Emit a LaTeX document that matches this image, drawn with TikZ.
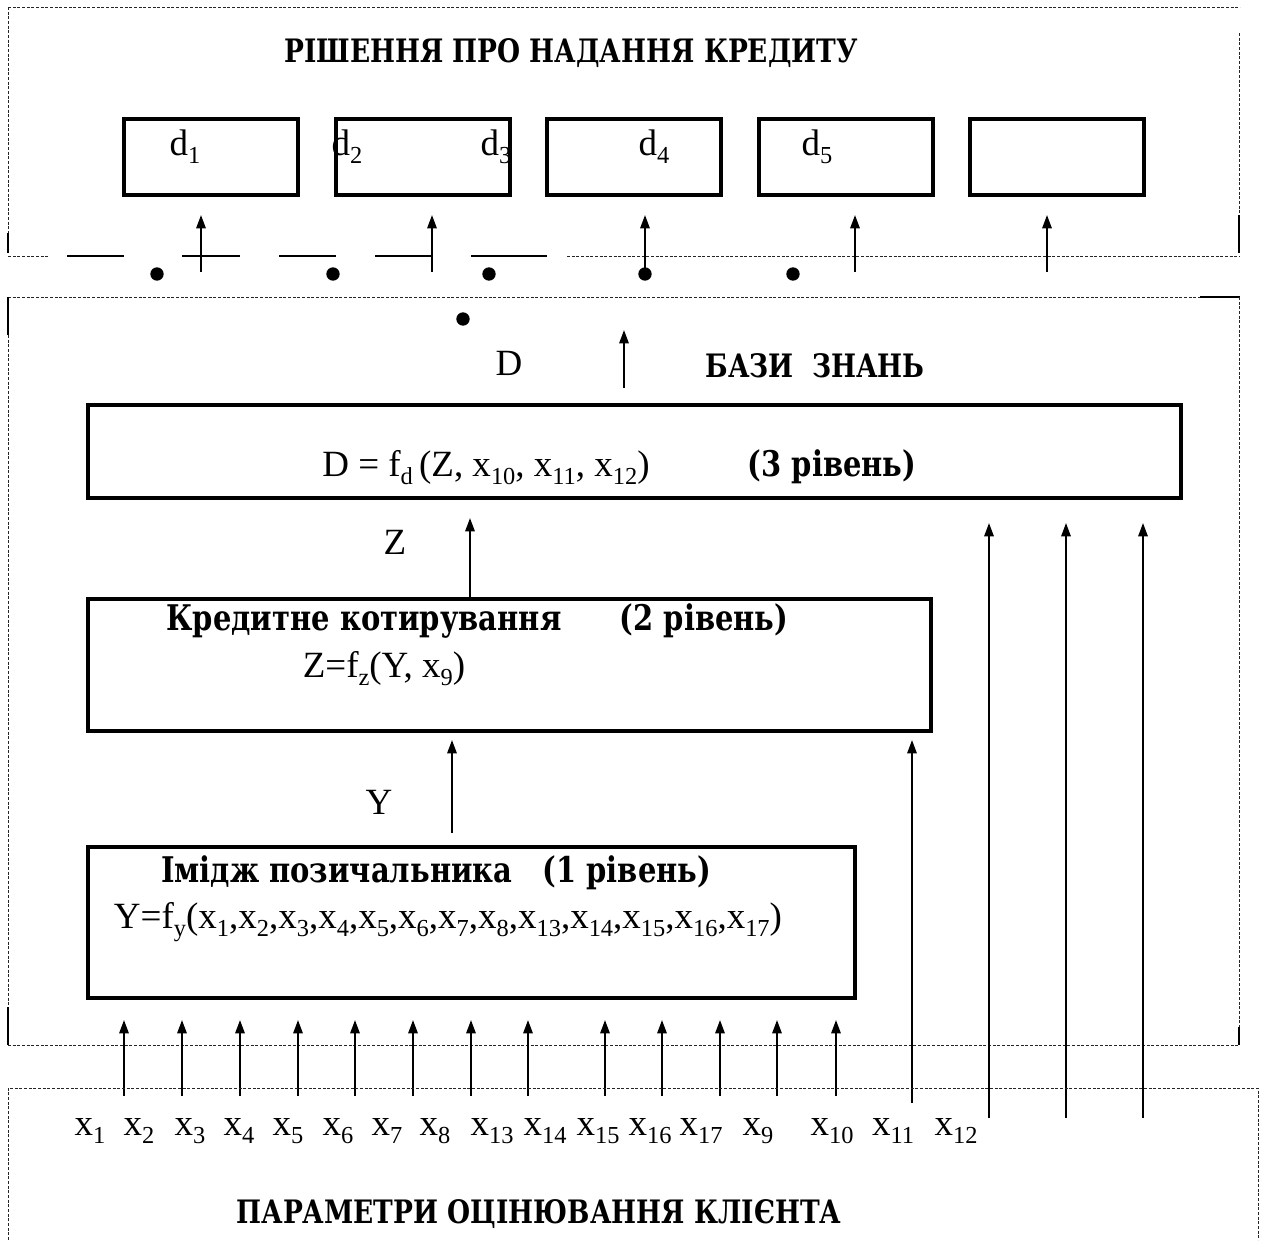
\documentclass[tikz,border=0pt]{standalone}
\usepackage{fontspec}
\usepackage{graphicx}
\setmainfont{Liberation Serif}
\newfontfamily\cyrf{DejaVu Serif}[FakeStretch=0.82]
\usetikzlibrary{arrows.meta}
\newcommand{\sbx}[1]{\raisebox{-0.22em}{\scalebox{0.66}{#1}}}
\newcommand{\bodyf}{\fontsize{27.75}{33}\selectfont}
\newcommand{\headf}{\cyrf\fontsize{24.2}{29}\selectfont\bfseries}
\newcommand{\boxf}{\cyrf\fontsize{26.5}{31}\selectfont\bfseries}
\begin{document}
\begin{tikzpicture}[x=0.75pt,y=-0.75pt,
  bx/.style={draw, line width=3pt, inner sep=0pt},
  txt/.style={inner sep=0pt, font=\bodyf, anchor=base},
  hd/.style={inner sep=0pt, font=\headf, anchor=base},
  bt/.style={inner sep=0pt, font=\boxf, anchor=base},
  arr/.style={line width=1.5pt, -{Triangle[length=10pt,width=7pt]}},
  fr/.style={line width=0.7pt, dash pattern=on 2.2pt off 1.3pt, black!85},
  sg/.style={line width=1.6pt},
  dt/.style={circle, fill, inner sep=0pt, minimum size=10pt}]
\useasboundingbox (0,0) rectangle (1267,1240);

% ---------- top panel frame ----------
\coordinate (t1) at (8,7);
\coordinate (t2) at (1240,7);
\coordinate (t3) at (8,233);
\coordinate (t4) at (8,253);
\coordinate (t5) at (8,256);
\coordinate (t6) at (49,256);
\coordinate (t7) at (567,256);
\coordinate (t8) at (1240,256);
\coordinate (t9) at (1239,33);
\coordinate (t10) at (1239,215);
\coordinate (t11) at (1239,253);
\draw[fr] (t1) -- (t2);
\draw[fr] (t1) -- (t3);
\draw[sg] (t3) -- (t4);
\draw[fr] (t5) -- (t6);
\draw[fr] (t7) -- (t8);
\draw[fr] (t9) -- (t10);
\draw[sg] (t10) -- (t11);
% solid pieces on the bottom line
\coordinate (s1a) at (67,256);  \coordinate (s1b) at (124,256);
\coordinate (s2a) at (182,256); \coordinate (s2b) at (240,256);
\coordinate (s3a) at (279,256); \coordinate (s3b) at (336,256);
\coordinate (s4a) at (375,256); \coordinate (s4b) at (432,256);
\coordinate (s5a) at (471,256); \coordinate (s5b) at (547,256);
\draw[sg] (s1a) -- (s1b);
\draw[sg] (s2a) -- (s2b);
\draw[sg] (s3a) -- (s3b);
\draw[sg] (s4a) -- (s4b);
\draw[sg] (s5a) -- (s5b);

\node[hd] (title1) at (571,62) {РІШЕННЯ ПРО НАДАННЯ КРЕДИТУ};

% decision boxes
\node[bx, minimum width=130.5pt, minimum height=57pt] (b1) at (211,157) {};
\node[bx, minimum width=130.5pt, minimum height=57pt] (b2) at (422.5,157) {};
\node[bx, minimum width=130.5pt, minimum height=57pt] (b3) at (634,157) {};
\node[bx, minimum width=130.5pt, minimum height=57pt] (b4) at (845.5,157) {};
\node[bx, minimum width=130.5pt, minimum height=57pt] (b5) at (1057,157) {};
\node[txt] (d1) at (185,155) {d\sbx{1}};
\node[txt] (d2) at (347,155) {d\sbx{2}};
\node[txt] (d3) at (496,155) {d\sbx{3}};
\node[txt] (d4) at (654,155) {d\sbx{4}};
\node[txt] (d5) at (817,155) {d\sbx{5}};

% arrows to decisions
\coordinate (a1s) at (201,272);  \coordinate (a1e) at (201,215);
\coordinate (a2s) at (432,272);  \coordinate (a2e) at (432,215);
\coordinate (a3s) at (645,274);  \coordinate (a3e) at (645,215);
\coordinate (a4s) at (855,272);  \coordinate (a4e) at (855,215);
\coordinate (a5s) at (1047,272); \coordinate (a5e) at (1047,215);
\draw[arr] (a1s) -- (a1e);
\draw[arr] (a2s) -- (a2e);
\draw[arr] (a3s) -- (a3e);
\draw[arr] (a4s) -- (a4e);
\draw[arr] (a5s) -- (a5e);

% dots
\node[dt] (p1) at (157,274) {};
\node[dt] (p2) at (333,274) {};
\node[dt] (p3) at (489,274) {};
\node[dt] (p4) at (645,274) {};
\node[dt] (p5) at (793,274) {};
\node[dt] (p6) at (463,319) {};

% ---------- middle panel frame ----------
\coordinate (m1) at (8,297);
\coordinate (m2) at (1200,297);
\coordinate (m3) at (1240,297);
\coordinate (m4) at (8,335);
\coordinate (m5) at (8,1007);
\coordinate (m6) at (8,1045);
\coordinate (m7) at (1239,1045);
\coordinate (m8) at (1239,297);
\coordinate (m9) at (1239,1027);
\draw[fr] (m1) -- (m2);
\draw[sg] (m2) -- (m3);
\draw[sg] (m1) -- (m4);
\draw[fr] (m4) -- (m5);
\draw[sg] (m5) -- (m6);
\draw[fr] (m6) -- (m7);
\draw[fr] (m8) -- (m9);
\draw[sg] (m9) -- (m7);

\node[hd] (kb) at (815,377) {БАЗИ\ \ ЗНАНЬ};
\node[txt] (Dl) at (509,375) {D};
\coordinate (Ds) at (624,388); \coordinate (De) at (624,330);
\draw[arr] (Ds) -- (De);

% level 3 box
\node[bx, minimum width=819.75pt, minimum height=69.75pt] (L3) at (634.5,451.5) {};
\node[txt] (f3) at (486,476) {D = f\sbx{d}\,(Z, x\sbx{10}, x\sbx{11}, x\sbx{12})};
\node[bt] (n3) at (832,476) {(3 рівень)};

% Z
\node[txt] (Zl) at (395,554) {Z};
\coordinate (Ze) at (470,518);

% level 2 box
\node[bx, minimum width=632.25pt, minimum height=99pt] (L2) at (509.5,665) {};
\node[bt] (t2a) at (364,630) {Кредитне котирування};
\node[bt] (t2b) at (704,630) {(2 рівень)};
\node[txt] (f2) at (384,677) {Z=f\sbx{z}(Y, x\sbx{9})};
\draw[arr] (Ze |- L2.north) -- (Ze);

% Y
\node[txt] (Yl) at (379,814) {Y};
\coordinate (Ys) at (452,833); \coordinate (Ye) at (452,740);
\draw[arr] (Ys) -- (Ye);

% level 1 box
\node[bx, minimum width=575.25pt, minimum height=113.25pt] (L1) at (471.5,922.5) {};
\node[bt] (t1a) at (436,882) {Імідж позичальника\ \ \ (1 рівень)};
\node[txt] (f1) at (448,928) {Y=f\sbx{y}(x\sbx{1},x\sbx{2},x\sbx{3},x\sbx{4},x\sbx{5},x\sbx{6},x\sbx{7},x\sbx{8},x\sbx{13},x\sbx{14},x\sbx{15},x\sbx{16},x\sbx{17})};

% x11 to level 2, x12.. to level 3
\coordinate (q0s) at (912,1103); \coordinate (q0e) at (912,740);
\draw[arr] (q0s) -- (q0e);
\coordinate (q1s) at (989,1118);  \coordinate (q1e) at (989,523);
\coordinate (q2s) at (1066,1118); \coordinate (q2e) at (1066,523);
\coordinate (q3s) at (1143,1118); \coordinate (q3e) at (1143,523);
\draw[arr] (q1s) -- (q1e);
\draw[arr] (q2s) -- (q2e);
\draw[arr] (q3s) -- (q3e);

% inputs to level 1
\foreach \xx [count=\i] in {124,182,240,298,355,413,471,528,605,662,720,777,836}{
  \coordinate (r\i s) at (\xx,1096);
  \coordinate (r\i e) at (\xx,1020);
  \draw[arr] (r\i s) -- (r\i e);
}

% ---------- bottom panel frame ----------
\coordinate (u1) at (8,1240);
\coordinate (u2) at (8,1088);
\coordinate (u3) at (1258,1088);
\coordinate (u4) at (1258,1240);
\draw[fr] (u1) -- (u2) -- (u3) -- (u4);

% labels
\node[txt] (x1) at (90,1135) {x\sbx{1}};
\node[txt] (x2) at (139,1135) {x\sbx{2}};
\node[txt] (x3) at (190,1135) {x\sbx{3}};
\node[txt] (x4) at (239,1135) {x\sbx{4}};
\node[txt] (x5) at (288,1135) {x\sbx{5}};
\node[txt] (x6) at (338,1135) {x\sbx{6}};
\node[txt] (x7) at (387,1135) {x\sbx{7}};
\node[txt] (x8) at (435,1135) {x\sbx{8}};
\node[txt] (x13) at (492,1135) {x\sbx{13}};
\node[txt] (x14) at (545,1135) {x\sbx{14}};
\node[txt] (x15) at (598,1135) {x\sbx{15}};
\node[txt] (x16) at (650,1135) {x\sbx{16}};
\node[txt] (x17) at (701,1135) {x\sbx{17}};
\node[txt] (x9) at (758,1135) {x\sbx{9}};
\node[txt] (x10) at (832,1135) {x\sbx{10}};
\node[txt] (x11) at (893,1135) {x\sbx{11}};
\node[txt] (x12) at (956,1135) {x\sbx{12}};

\node[hd] (title2) at (539,1223) {ПАРАМЕТРИ ОЦІНЮВАННЯ КЛІЄНТА};
\end{tikzpicture}
\end{document}
